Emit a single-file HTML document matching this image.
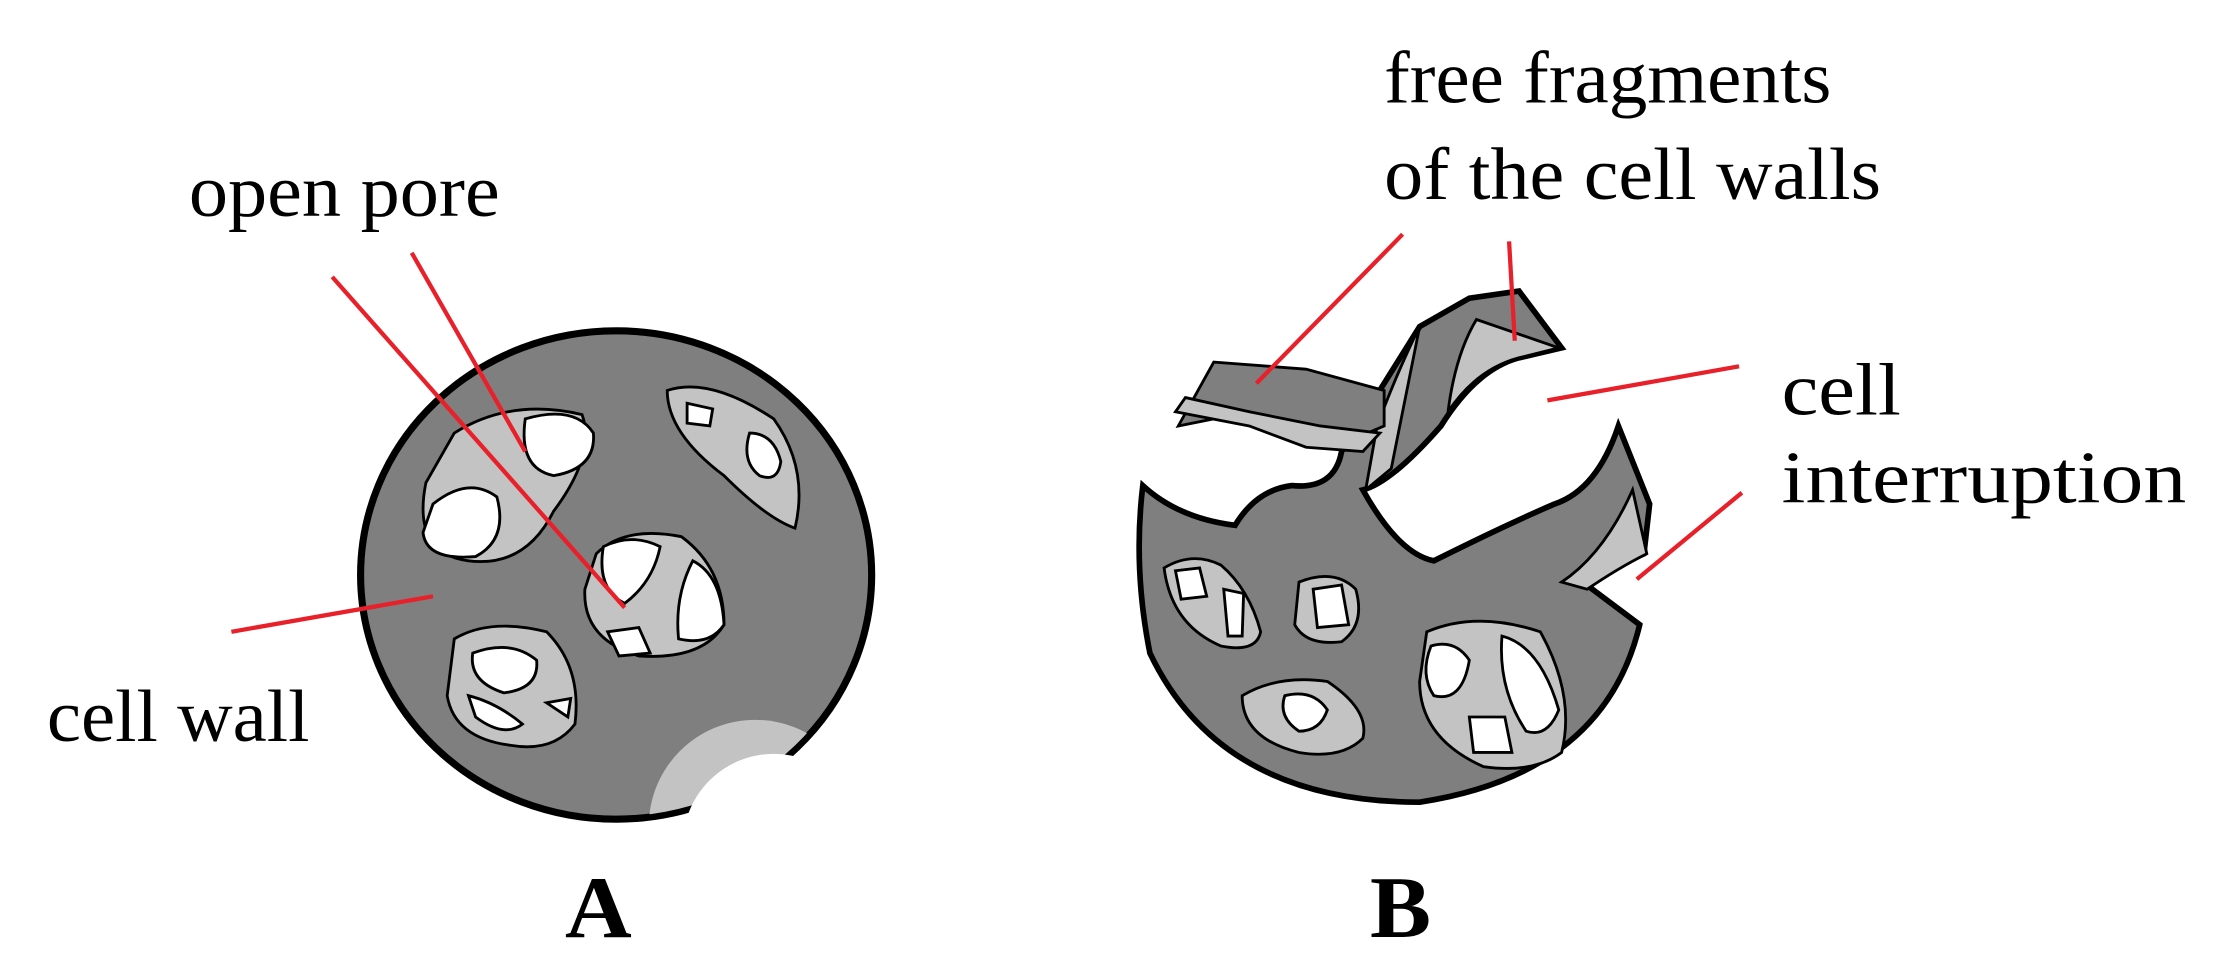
<!DOCTYPE html>
<html><head><meta charset="utf-8"><style>
html,body{margin:0;padding:0;background:#fff;}
svg{display:block;}
text{font-family:"Liberation Serif",serif;fill:#000;}
</style></head><body>
<svg width="2226" height="974" viewBox="0 0 1568 686" xmlns="http://www.w3.org/2000/svg">
<defs><clipPath id="ca"><ellipse cx="434" cy="405" rx="178" ry="170"/></clipPath></defs>
<rect width="1568" height="686" fill="#fff"/>
<!-- A -->
<ellipse cx="434" cy="405" rx="180" ry="172" fill="#7f7f7f" stroke="#000" stroke-width="5"/>
<g clip-path="url(#ca)">
<circle cx="532" cy="582" r="75" fill="#c3c3c3"/>
</g>
<circle cx="545" cy="595" r="64" fill="#fff"/>
<rect x="576" y="520" width="60" height="100" fill="#fff"/>
<path d="M320 305 Q360 280 410 292 Q420 320 390 360 Q370 400 330 395 Q290 390 300 340 Z" fill="#c3c3c3" stroke="#000" stroke-width="2"/>
<path d="M370 295 Q405 285 418 305 Q420 330 390 335 Q365 330 370 295 Z" fill="#fff" stroke="#000" stroke-width="2"/>
<path d="M305 355 Q330 335 350 350 Q358 380 335 392 Q300 395 298 375 Z" fill="#fff" stroke="#000" stroke-width="2"/>
<path d="M470 275 Q500 265 545 295 Q570 330 560 372 Q540 365 510 335 Q470 305 470 275 Z" fill="#c3c3c3" stroke="#000" stroke-width="2"/>
<path d="M484 284 L502 288 L500 300 L484 298 Z" fill="#fff" stroke="#000" stroke-width="2"/>
<path d="M528 305 Q545 305 550 325 Q548 340 535 335 Q522 325 528 305 Z" fill="#fff" stroke="#000" stroke-width="2"/>
<path d="M420 390 Q440 370 480 378 Q510 400 510 440 Q495 465 450 462 Q410 450 412 415 Z" fill="#c3c3c3" stroke="#000" stroke-width="2"/>
<path d="M425 385 Q445 375 465 385 Q460 410 440 425 Q420 415 425 385 Z" fill="#fff" stroke="#000" stroke-width="2"/>
<path d="M488 395 Q508 405 510 440 Q500 455 478 450 Q475 420 488 395 Z" fill="#fff" stroke="#000" stroke-width="2"/>
<path d="M428 445 L450 442 L458 460 L436 462 Z" fill="#fff" stroke="#000" stroke-width="2"/>
<path d="M320 450 Q345 435 385 445 Q410 470 405 510 Q390 530 360 525 Q320 520 315 490 Z" fill="#c3c3c3" stroke="#000" stroke-width="2"/>
<path d="M333 460 Q360 450 378 465 Q380 485 355 488 Q330 480 333 460 Z" fill="#fff" stroke="#000" stroke-width="2"/>
<path d="M330 490 Q350 495 368 510 Q355 520 335 505 Z" fill="#fff" stroke="#000" stroke-width="2"/>
<path d="M385 495 L402 492 L400 505 Z" fill="#fff" stroke="#000" stroke-width="2"/>
<!-- B -->
<path d="M805 342 Q830 365 870 370 Q885 345 910 342 Q940 345 945 318 L1000 230 L1035 210 L1070 205 L1100 245 L1070 252 Q1040 260 1015 300 Q980 340 960 345 Q985 390 1010 395 Q1060 370 1095 355 Q1125 345 1140 300 L1162 355 L1158 390 Q1135 400 1115 410 L1155 440 Q1130 545 1000 565 Q860 565 810 460 Q798 400 805 342 Z" fill="#7f7f7f" stroke="#000" stroke-width="4"/>
<path d="M1000 230 Q990 280 980 330 L962 345 L970 300 Q985 260 1000 230 Z" fill="#c3c3c3" stroke="#000" stroke-width="2"/>
<path d="M1040 225 L1098 245 L1070 252 Q1040 260 1020 290 Q1025 250 1040 225 Z" fill="#c3c3c3" stroke="#000" stroke-width="2"/>
<path d="M1150 345 L1160 390 Q1140 400 1118 415 L1100 410 Q1130 390 1150 345 Z" fill="#c3c3c3" stroke="#000" stroke-width="2"/>
<path d="M855 255 L830 300 L880 290 L940 315 L975 300 L975 275 L920 260 Z" fill="#7f7f7f" stroke="#000" stroke-width="2"/>
<path d="M835 280 L880 290 L930 300 L972 305 L960 318 L920 315 L880 300 L828 290 Z" fill="#c3c3c3" stroke="#000" stroke-width="2"/>
<path d="M820 400 Q840 388 860 398 Q880 415 888 445 Q885 460 860 455 Q825 440 820 400 Z" fill="#c3c3c3" stroke="#000" stroke-width="2"/>
<path d="M828 402 L845 400 L850 420 L832 422 Z" fill="#fff" stroke="#000" stroke-width="2"/>
<path d="M862 415 L876 418 L875 448 L865 448 Z" fill="#fff" stroke="#000" stroke-width="2"/>
<path d="M915 410 Q940 400 955 415 Q962 440 945 452 Q920 455 912 440 Z" fill="#c3c3c3" stroke="#000" stroke-width="2"/>
<path d="M925 415 L945 412 L950 440 L928 442 Z" fill="#fff" stroke="#000" stroke-width="2"/>
<path d="M875 490 Q900 475 935 480 Q965 500 960 520 Q945 535 915 530 Q875 520 875 490 Z" fill="#c3c3c3" stroke="#000" stroke-width="2"/>
<path d="M905 490 Q925 485 935 500 Q930 515 915 515 Q900 505 905 490 Z" fill="#fff" stroke="#000" stroke-width="2"/>
<path d="M1005 445 Q1040 430 1085 445 Q1110 490 1100 530 Q1080 545 1045 540 Q1000 520 1000 480 Z" fill="#c3c3c3" stroke="#000" stroke-width="2"/>
<path d="M1008 455 Q1025 450 1035 465 Q1030 495 1010 490 Q1000 475 1008 455 Z" fill="#fff" stroke="#000" stroke-width="2"/>
<path d="M1058 448 Q1085 455 1098 500 Q1090 520 1075 515 Q1055 485 1058 448 Z" fill="#fff" stroke="#000" stroke-width="2"/>
<path d="M1035 505 L1060 505 L1065 530 L1038 530 Z" fill="#fff" stroke="#000" stroke-width="2"/>
<!-- red leaders -->
<g stroke="#e8202a" stroke-width="3" fill="none">
<line x1="290" y1="178" x2="370" y2="318"/>
<line x1="234" y1="195" x2="440" y2="428"/>
<line x1="163" y1="445" x2="305" y2="420"/>
<line x1="988" y1="165" x2="885" y2="270"/>
<line x1="1063" y1="170" x2="1067" y2="240"/>
<line x1="1225" y1="258" x2="1090" y2="282"/>
<line x1="1227" y1="347" x2="1153" y2="408"/>
</g>
<!-- labels -->
<g font-size="52">
<text x="133" y="152" textLength="219" lengthAdjust="spacingAndGlyphs">open pore</text>
<text x="33" y="522" textLength="185" lengthAdjust="spacingAndGlyphs">cell wall</text>
<text x="975" y="72" textLength="315" lengthAdjust="spacingAndGlyphs">free fragments</text>
<text x="975" y="140" textLength="350" lengthAdjust="spacingAndGlyphs">of the cell walls</text>
<text x="1255" y="292" textLength="84" lengthAdjust="spacingAndGlyphs">cell</text>
<text x="1255" y="354" textLength="285" lengthAdjust="spacingAndGlyphs">interruption</text>
</g>
<text x="398" y="660" font-size="62" font-weight="bold" textLength="47" lengthAdjust="spacingAndGlyphs">A</text>
<text x="965" y="660" font-size="62" font-weight="bold" textLength="43" lengthAdjust="spacingAndGlyphs">B</text>
</svg>
</body></html>
